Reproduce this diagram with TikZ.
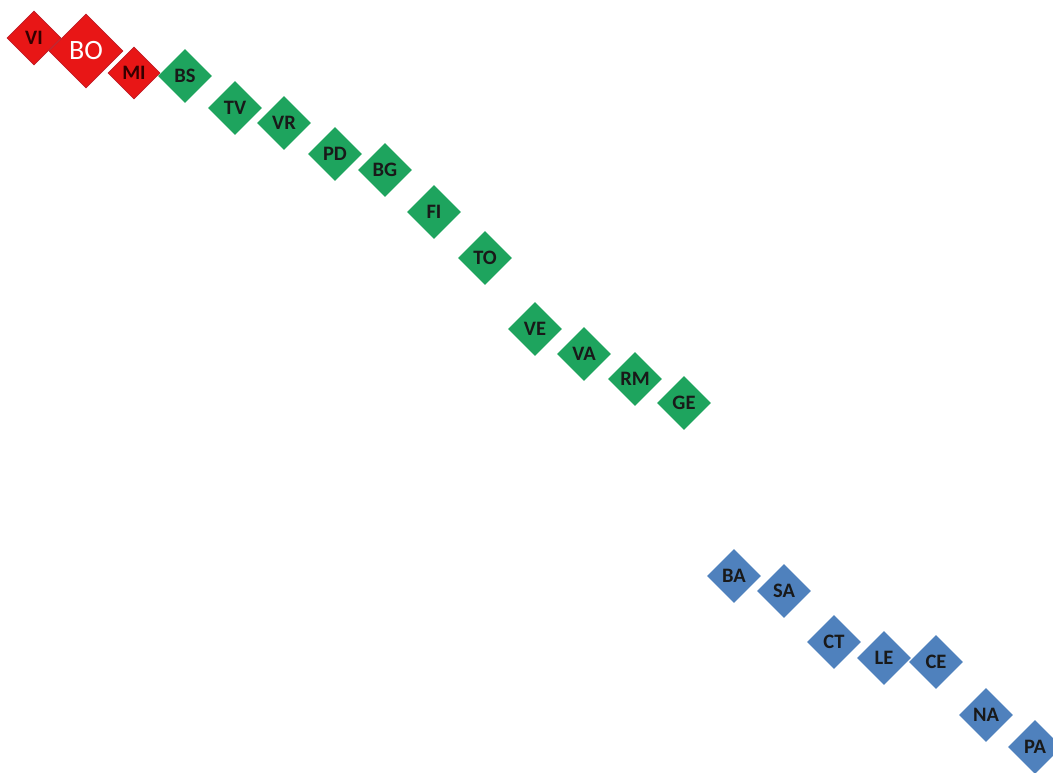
\documentclass[tikz,border=0pt]{standalone}
\usepackage{fontspec}
\setmainfont{Carlito}
\usetikzlibrary{shapes.geometric}
\definecolor{rd}{RGB}{232,22,22}
\definecolor{rdb}{RGB}{190,30,40}
\definecolor{gn}{RGB}{30,164,94}
\definecolor{bl}{RGB}{79,129,189}
\tikzset{
  dia/.style={diamond,aspect=1,inner sep=0pt,minimum width=54pt,minimum height=54pt,
    font=\fontsize{20.5}{20.5}\selectfont\bfseries,text=black!90},
  redd/.style={dia,fill=rd,draw=rdb,line width=0.8pt,text=black!80!red},
  grn/.style={dia,fill=gn},
  blu/.style={dia,fill=bl,text=black!90},
}
\begin{document}
\begin{tikzpicture}[x=1pt,y=-1pt]
\useasboundingbox (0,0) rectangle (1053,773);
\node[redd] (VI) at (34,38) {VI};
\node[redd,minimum width=74pt,minimum height=74pt,font=\fontsize{28}{28}\selectfont,text=white] (BO) at (86,51) {BO};
\node[redd,minimum width=52pt,minimum height=52pt] (MI) at (134,73) {MI};
\node[grn] (BS) at (185,76) {BS};
\node[grn] (TV) at (235,108) {TV};
\node[grn] (VR) at (284,123) {VR};
\node[grn] (PD) at (335,154) {PD};
\node[grn] (BG) at (385,170) {BG};
\node[grn] (FI) at (434,212) {FI};
\node[grn] (TO) at (485,258) {TO};
\node[grn] (VE) at (535,329) {VE};
\node[grn] (VA) at (584,354) {VA};
\node[grn] (RM) at (635,379) {RM};
\node[grn] (GE) at (684,403) {GE};
\node[blu] (BA) at (734,576) {BA};
\node[blu] (SA) at (784,591) {SA};
\node[blu] (CT) at (834,642) {CT};
\node[blu] (LE) at (884,658) {LE};
\node[blu] (CE) at (936,662) {CE};
\node[blu] (NA) at (986,715) {NA};
\node[blu] (PA) at (1035,747) {PA};
\end{tikzpicture}
\end{document}
